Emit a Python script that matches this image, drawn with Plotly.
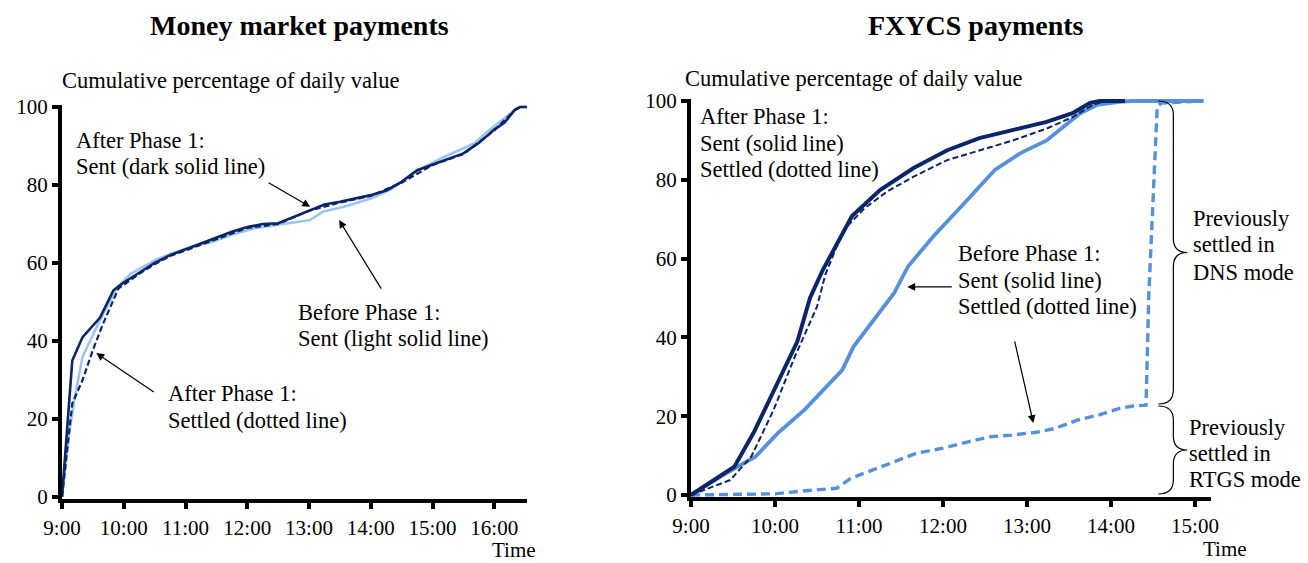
import plotly.graph_objects as go

# ---------------- Money market payments (left panel) ----------------
mm_after_sent_t = ["9:00", "9:10", "9:20", "9:37", "9:50", "10:00", "10:15", "10:30", "10:45",
                   "11:00", "11:15", "11:30", "11:45", "12:00", "12:15", "12:30", "12:45", "13:00",
                   "13:15", "13:30", "13:45", "14:00", "14:15", "14:30", "14:45", "15:00", "15:15",
                   "15:30", "15:45", "16:00", "16:10", "16:20", "16:25", "16:33"]
mm_after_sent_v = [0, 35, 41, 46, 53, 55, 57.5, 60, 62,
                   63.5, 64.8, 66.3, 68, 69.2, 70, 70.2, 71.8, 73.6,
                   75, 75.7, 76.6, 77.4, 78.6, 80.8, 83.8, 85.3, 86.8,
                   88.1, 90.8, 94.2, 96, 99.3, 100, 100]

mm_before_sent_t = ["9:00", "9:07", "9:12", "9:20", "9:37", "9:47", "9:54", "10:07", "10:31",
                    "10:47", "11:07", "11:27", "11:47", "12:07", "12:28", "12:47", "13:01", "13:14",
                    "13:34", "14:01", "14:21", "14:41", "15:08", "15:41", "15:51", "16:08", "16:22",
                    "16:27", "16:33"]
mm_before_sent_v = [0, 16.4, 24.9, 36, 45.4, 50.5, 53.9, 57.3, 60.8,
                    62.5, 64.2, 65.5, 67.4, 68.9, 69.7, 70.6, 71, 73.2,
                    74.4, 76.6, 79.1, 83, 86.8, 90.7, 93.2, 96.7, 99.7,
                    100, 100]

mm_after_settled_t = ["9:00", "9:05", "9:10", "9:20", "9:30", "9:40", "9:49", "9:55", "10:15",
                      "10:30", "10:45", "11:00", "11:30", "12:00", "12:30", "13:00", "13:30",
                      "14:00", "14:30", "15:00", "15:30", "16:00", "16:20", "16:25", "16:33"]
mm_after_settled_v = [0, 12, 24, 30, 37.7, 44.5, 49.7, 53.5, 57.2,
                      59.7, 61.8, 63.3, 66.1, 69.0, 70.0, 73.4, 75.5,
                      77.2, 80.6, 85.1, 87.9, 94.0, 99.2, 100, 100]

# ---------------- FXYCS payments (right panel) ----------------
fx_after_sent_t = ["9:00", "9:15", "9:31", "9:45", "10:05", "10:16", "10:25", "10:34", "10:55",
                   "11:15", "11:39", "12:03", "12:26", "12:50", "13:14", "13:33", "13:45", "13:52",
                   "14:10"]
fx_after_sent_v = [0, 3.4, 7.2, 16, 30.5, 39, 50, 57, 70.8,
                   77.4, 83, 87.5, 90.6, 92.6, 94.7, 97, 99.5, 100,
                   100]

fx_after_settled_t = ["9:00", "9:28", "9:43", "9:59", "10:14", "10:30", "10:36", "10:44", "10:51",
                      "11:04", "11:20", "11:39", "12:03", "12:27", "12:50", "13:14", "13:33",
                      "13:47", "13:55", "14:10"]
fx_after_settled_v = [0, 3.8, 9.7, 21.6, 35, 47.8, 56, 63, 68,
                      72.8, 77, 80.8, 85, 87.6, 90, 93, 96,
                      99, 100, 100]

fx_before_sent_t = ["9:00", "9:25", "9:46", "10:02", "10:21", "10:39", "10:48", "10:56", "11:05",
                    "11:10", "11:25", "11:35", "11:53", "12:15", "12:37", "12:55", "13:14", "13:38",
                    "13:50", "14:06", "14:15", "15:06"]
fx_before_sent_v = [0, 5.5, 9.7, 15.7, 21.6, 28.3, 31.7, 37.6, 41.9,
                    44.4, 51.2, 58, 65.6, 74, 82.5, 86.7, 90, 96.9,
                    99, 99.8, 100, 100]

fx_before_settled_t = ["9:00", "10:00", "10:19", "10:44", "10:54", "11:10", "11:22", "11:41", "12:00",
                       "12:18", "12:34", "12:49", "13:08", "13:20", "13:36", "13:51", "14:06", "14:16",
                       "14:25", "14:27", "14:33", "14:36", "15:06"]
fx_before_settled_v = [0, 0.3, 1, 1.7, 4.2, 6.3, 8, 10.6, 11.9,
                       13.5, 14.8, 15.2, 16, 16.9, 19, 20.3, 22, 22.6,
                       22.8, 51, 98.6, 99.5, 100]

mm_ticks = ["9:00", "10:00", "11:00", "12:00", "13:00", "14:00", "15:00", "16:00"]
fx_ticks = ["9:00", "10:00", "11:00", "12:00", "13:00", "14:00", "15:00"]
y_ticks = [0, 20, 40, 60, 80, 100]


def hours(label):
    h, m = label.split(":")
    return int(h) + int(m) / 60.0


def hrs(labels):
    return [hours(s) for s in labels]


NAVY = "#0B2566"
LIGHT = "#9CC4EE"
MID = "#5790DA"
FONT = "Liberation Serif"
W, H = 1308, 563

fig = go.Figure()

# left panel traces
fig.add_trace(go.Scatter(x=hrs(mm_before_sent_t), y=mm_before_sent_v, mode="lines",
                         line=dict(color=LIGHT, width=2.6), xaxis="x", yaxis="y"))
fig.add_trace(go.Scatter(x=hrs(mm_after_sent_t), y=mm_after_sent_v, mode="lines",
                         line=dict(color=NAVY, width=2.6), xaxis="x", yaxis="y"))
fig.add_trace(go.Scatter(x=hrs(mm_after_settled_t), y=mm_after_settled_v, mode="lines",
                         line=dict(color=NAVY, width=2.2, dash="6px,3px"), xaxis="x", yaxis="y"))

# right panel traces
fig.add_trace(go.Scatter(x=hrs(fx_before_settled_t), y=fx_before_settled_v, mode="lines",
                         line=dict(color=MID, width=3.4, dash="9px,5px"), xaxis="x2", yaxis="y2"))
fig.add_trace(go.Scatter(x=hrs(fx_before_sent_t), y=fx_before_sent_v, mode="lines",
                         line=dict(color=MID, width=3.8), xaxis="x2", yaxis="y2"))
fig.add_trace(go.Scatter(x=hrs(fx_after_sent_t), y=fx_after_sent_v, mode="lines",
                         line=dict(color=NAVY, width=4), xaxis="x2", yaxis="y2"))
fig.add_trace(go.Scatter(x=hrs(fx_after_settled_t), y=fx_after_settled_v, mode="lines",
                         line=dict(color=NAVY, width=2, dash="6px,3px"), xaxis="x2", yaxis="y2"))


def px_x(px):
    return px / W


def px_y(py):
    return 1 - py / H


axis_common = dict(showline=True, linecolor="black", linewidth=4, ticks="outside",
                   tickcolor="black", tickwidth=4, ticklen=6, showgrid=False, zeroline=False,
                   tickfont=dict(family=FONT, size=21, color="black"), automargin=False)

fig.update_layout(
    width=W, height=H,
    margin=dict(l=0, r=0, t=0, b=0),
    paper_bgcolor="white", plot_bgcolor="white",
    showlegend=False,
    xaxis=dict(domain=[px_x(62), px_x(527)], range=[9, 16.53], anchor="y",
               tickvals=hrs(mm_ticks), ticktext=mm_ticks, ticklabelstandoff=1, **axis_common),
    yaxis=dict(domain=[px_y(498.95), px_y(105.05)], range=[-0.5, 100.5], anchor="x",
               tickvals=y_ticks, **axis_common),
    xaxis2=dict(domain=[px_x(691), px_x(1211)], range=[9, 15.19], anchor="y2",
                tickvals=hrs(fx_ticks), ticktext=fx_ticks, ticklabelstandoff=1, **axis_common),
    yaxis2=dict(domain=[px_y(496.97), px_y(99.03)], range=[-0.5, 100.5], anchor="x2",
                tickvals=y_ticks, **axis_common),
)

txt_font = dict(family=FONT, size=22.5, color="black")


def label(text, px, py, xanchor="left", yanchor="middle", font=None):
    fig.add_annotation(text=text, x=px_x(px), y=px_y(py), xref="paper", yref="paper",
                       xanchor=xanchor, yanchor=yanchor, showarrow=False, align="left",
                       font=font or txt_font)


def block(lines, px, centers):
    for text, py in zip(lines, centers):
        label(text, px, py)


title_font = dict(family=FONT, size=28, color="black")
label("<b>Money market payments</b>", 299, 26, xanchor="center", font=title_font)
label("<b>FXYCS payments</b>", 976, 26, xanchor="center", font=title_font)

label("Cumulative percentage of daily value", 60, 80)
label("Cumulative percentage of daily value", 683, 78)
time_font = dict(family=FONT, size=21, color="black")
label("Time", 538, 550, xanchor="right", font=time_font)
label("Time", 1249, 549, xanchor="right", font=time_font)

block(["After Phase 1:", "Sent (dark solid line)"], 74, [140, 166])
block(["Before Phase 1:", "Sent (light solid line)"], 296, [312, 338])
block(["After Phase 1:", "Settled (dotted line)"], 166, [393, 420])

block(["After Phase 1:", "Sent (solid line)", "Settled (dotted line)"], 698, [116, 143, 169])
block(["Before Phase 1:", "Sent (solid line)", "Settled (dotted line)"], 956, [253, 280, 306])
block(["Previously", "settled in", "DNS mode"], 1191, [218, 245, 272])
block(["Previously", "settled in", "RTGS mode"], 1187, [427, 453, 480])


def arrow(x, y, ax, ay, xref, yref):
    fig.add_annotation(x=x, y=y, xref=xref, yref=yref, ax=ax, ay=ay, text="",
                       showarrow=True, arrowhead=2, arrowsize=1.3, arrowwidth=1.2,
                       arrowcolor="black", standoff=0)


arrow(13.018, 74.4, -43, -25, "x", "y")
arrow(13.487, 71.0, 43, 70, "x", "y")
arrow(9.555, 36.9, 59, 40, "x", "y")
arrow(11.575, 52.8, 46, 0, "x2", "y2")
arrow(13.075, 18.3, -19, -83, "x2", "y2")


# curly braces beside the FXYCS settlement jump, in data units of the right panel
def fx_px(px):
    return 9 + (px - 690.7) / 84.0


def fy_px(py):
    return (495 - py) / 3.94


def brace(top, bottom, x0=1158, x1=1173, x2=1187, r=14):
    mid = (top + bottom) / 2
    pts = [
        f"M {fx_px(x0)},{fy_px(top)}",
        f"Q {fx_px(x1)},{fy_px(top)} {fx_px(x1)},{fy_px(top + r)}",
        f"L {fx_px(x1)},{fy_px(mid - r)}",
        f"Q {fx_px(x1)},{fy_px(mid)} {fx_px(x2)},{fy_px(mid)}",
        f"Q {fx_px(x1)},{fy_px(mid)} {fx_px(x1)},{fy_px(mid + r)}",
        f"L {fx_px(x1)},{fy_px(bottom - r)}",
        f"Q {fx_px(x1)},{fy_px(bottom)} {fx_px(x0)},{fy_px(bottom)}",
    ]
    fig.add_shape(type="path", path=" ".join(pts), xref="x2", yref="y2",
                  line=dict(color="black", width=1.2))


brace(101, 404)
brace(406, 494)

fig.write_html("out.html")
